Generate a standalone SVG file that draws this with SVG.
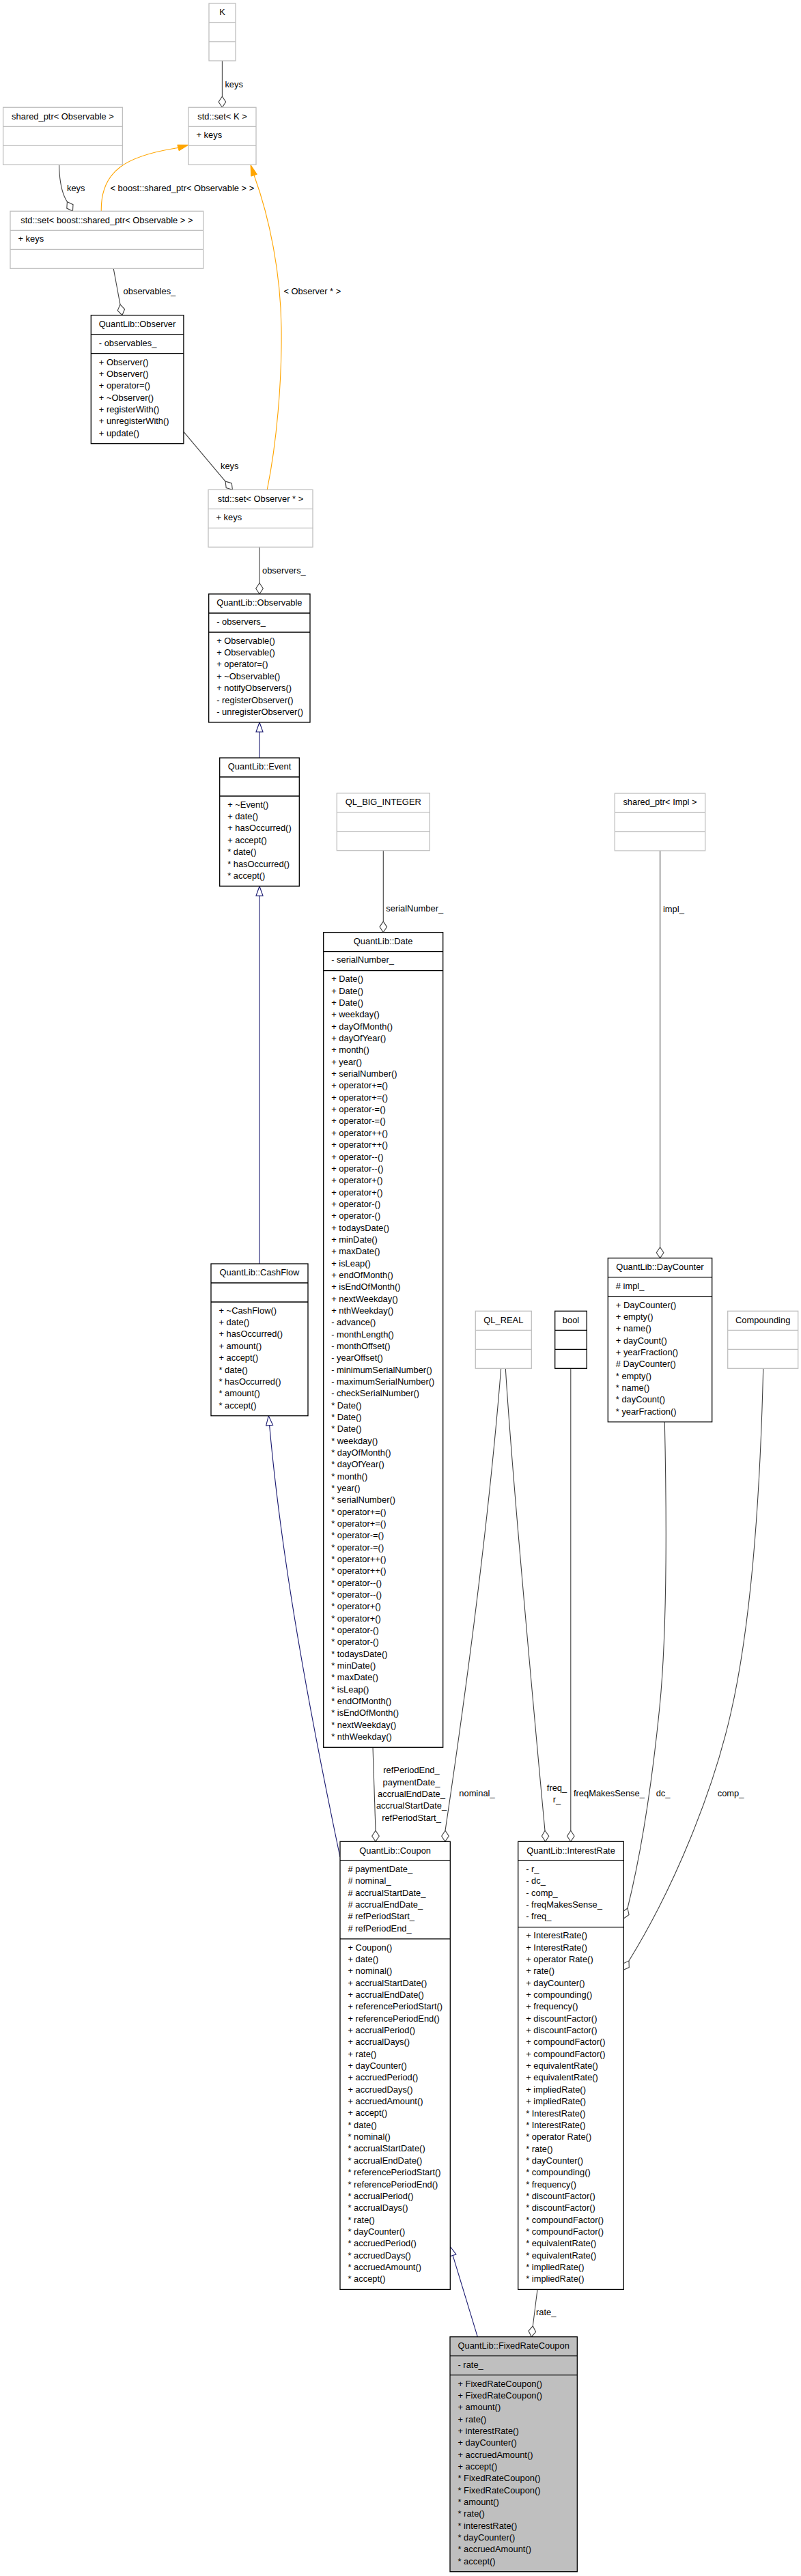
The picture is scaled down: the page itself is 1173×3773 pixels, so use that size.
<svg xmlns="http://www.w3.org/2000/svg" width="1173" height="3773" viewBox="0 0 1173 3773">
<style>
.t{font-family:"Liberation Sans",Arial,Helvetica,sans-serif;font-size:12.9px;fill:#000}
.c{text-anchor:middle}
.box{fill:#fff;stroke:#000;stroke-width:1.3}
.lbox{fill:#fff;stroke:#bfbfbf;stroke-width:1.3}
.gbox{fill:#bfbfbf;stroke:#000;stroke-width:1.3}
.sep{stroke:#000;stroke-width:1.3}
.lsep{stroke:#bfbfbf;stroke-width:1.3}
.edge{fill:none;stroke:#404040;stroke-width:1.1}
.inh{fill:none;stroke:#191970;stroke-width:1.1}
.tmpl{fill:none;stroke:#ffa500;stroke-width:1.1}
.dia{fill:#fff;stroke:#404040;stroke-width:1.1}
.tri{fill:#fff;stroke:#191970;stroke-width:1.1}
.arr{fill:#ffa500;stroke:#ffa500;stroke-width:1}
</style>
<rect x="0" y="0" width="1173" height="3773" fill="#fff"/>

<g id="connectors">
  <!-- K -> std::set<K> -->
  <line class="edge" x1="325.4" y1="89" x2="325.4" y2="141.3"/>
  <polygon class="dia" points="325.4,157.3 320.1,149.3 325.4,141.3 330.7,149.3"/>
  <text class="t" x="329.4" y="127.5">keys</text>
  <!-- shared_ptr<Observable> -> std::set<shared_ptr> -->
  <path class="edge" d="M86.5,241.3 C87,265 90,283 98.4,295.5"/>
  <polygon class="dia" points="106.5,309.3 107,299.7 98.4,295.5 97.8,305.1"/>
  <text class="t" x="98" y="279.5">keys</text>
  <!-- template instantiation 1 -->
  <path class="tmpl" d="M148.3,309.3 C147,250 185,228 261,216.5"/>
  <polygon class="arr" points="275.8,212.3 262.2,220.8 259.8,212.2"/>
  <text class="t" x="161.5" y="279.5">&lt; boost::shared_ptr&lt; Observable &gt; &gt;</text>
  <!-- template instantiation 2 -->
  <path class="tmpl" d="M391.2,717.3 C405,650 413,560 412,480 C411,400 395,320 372.1,256.7"/>
  <polygon class="arr" points="367,241.3 376.4,255.3 367.8,258.1"/>
  <text class="t" x="415.4" y="431">&lt; Observer * &gt;</text>
  <!-- observables_ -->
  <line class="edge" x1="166.2" y1="393.3" x2="176" y2="446"/>
  <polygon class="dia" points="178.9,461.7 182.6,452.8 176,446 172.2,454.8"/>
  <text class="t" x="180.6" y="431">observables_</text>
  <!-- Observer keys -> std::set<Observer*> -->
  <line class="edge" x1="268.9" y1="632.3" x2="330.1" y2="705.1"/>
  <polygon class="dia" points="340.4,717.3 339.3,707.8 330.1,705.1 331.2,714.6"/>
  <text class="t" x="323" y="687">keys</text>
  <!-- observers_ -->
  <line class="edge" x1="380" y1="801.3" x2="380" y2="854"/>
  <polygon class="dia" points="380,870 374.7,862 380,854 385.3,862"/>
  <text class="t" x="384" y="839.5">observers_</text>
  <!-- Event -> Observable -->
  <line class="inh" x1="380" y1="1110" x2="380" y2="1072"/>
  <polygon class="tri" points="380,1058 375,1072 385,1072"/>
  <!-- CashFlow -> Event -->
  <line class="inh" x1="380" y1="1851" x2="380" y2="1312"/>
  <polygon class="tri" points="380,1298 375,1312 385,1312"/>
  <!-- Coupon -> CashFlow -->
  <path class="inh" d="M498,2720 C452.9,2505 412.7,2289 394.6,2087.6"/>
  <polygon class="tri" points="393.3,2073.7 399.6,2087.2 389.6,2088.1"/>
  <!-- serialNumber_ -->
  <line class="edge" x1="561.3" y1="1245.7" x2="561.3" y2="1349.6"/>
  <polygon class="dia" points="561.3,1365.6 556,1357.6 561.3,1349.6 566.6,1357.6"/>
  <text class="t" x="565.3" y="1335">serialNumber_</text>
  <!-- impl_ -->
  <line class="edge" x1="966.6" y1="1246" x2="966.6" y2="1826.7"/>
  <polygon class="dia" points="966.6,1842.7 961.3,1834.7 966.6,1826.7 971.9,1834.7"/>
  <text class="t" x="971" y="1336">impl_</text>
  <!-- Date -> Coupon -->
  <line class="edge" x1="546" y1="2559.3" x2="550" y2="2681.3"/>
  <polygon class="dia" points="550,2697.3 544.7,2689.3 550,2681.3 555.3,2689.3"/>
  <text class="t c" x="602.5" y="2597.2">refPeriodEnd_<tspan x="602.5" dy="17.34">paymentDate_</tspan><tspan x="602.5" dy="17.34">accrualEndDate_</tspan><tspan x="602.5" dy="17.34">accrualStartDate_</tspan><tspan x="602.5" dy="17.34">refPeriodStart_</tspan></text>
  <!-- nominal_ -->
  <path class="edge" d="M733.7,2004.3 C722,2150 700,2360 652,2681.3"/>
  <polygon class="dia" points="651.7,2697.3 646.7,2689.3 652,2681.3 657.3,2689.3"/>
  <text class="t" x="672.3" y="2631.2">nominal_</text>
  <!-- freq_ r_ -->
  <path class="edge" d="M740.3,2004.3 C748,2130 770,2380 798,2681.3"/>
  <polygon class="dia" points="798.7,2697.3 793.4,2689.3 798,2681.3 803.8,2689.3"/>
  <text class="t c" x="815.5" y="2622.8">freq_<tspan x="815.5" dy="17.34">r_</tspan></text>
  <!-- freqMakesSense_ -->
  <line class="edge" x1="835.8" y1="2004.3" x2="835.8" y2="2681.3"/>
  <polygon class="dia" points="835.8,2697.3 830.5,2689.3 835.8,2681.3 841.1,2689.3"/>
  <text class="t" x="840" y="2631.2">freqMakesSense_</text>
  <!-- dc_ -->
  <path class="edge" d="M973.3,2082.7 C977,2250 976,2400 966,2500 C956,2600 940,2710 919,2795"/>
  <polygon class="dia" points="913.3,2810 921.1,2804.4 919,2795 911.1,2800.6"/>
  <text class="t" x="960.7" y="2631.2">dc_</text>
  <!-- comp_ -->
  <path class="edge" d="M1117.7,2004.3 C1113,2200 1100,2380 1070,2510 C1045,2620 990,2760 921,2872"/>
  <polygon class="dia" points="912.6,2885.6 921.3,2881.6 921,2872 912.3,2876"/>
  <text class="t" x="1050.7" y="2631.2">comp_</text>
  <!-- rate_ -->
  <line class="edge" x1="787" y1="3353.4" x2="780.3" y2="3406.8"/>
  <polygon class="dia" points="778.3,3422.7 784.6,3415.5 780.3,3406.8 774,3414.1"/>
  <text class="t" x="785" y="3391">rate_</text>
  <!-- FixedRateCoupon -> Coupon -->
  <line class="inh" x1="699.3" y1="3422.7" x2="663.1" y2="3303.4"/>
  <polygon class="tri" points="659,3290 667.9,3301.9 658.3,3304.9"/>
</g>

<g id="K">
  <rect class="lbox" x="306" y="5" width="39" height="84"/>
  <line class="lsep" x1="306" y1="33" x2="345" y2="33"/>
  <line class="lsep" x1="306" y1="61" x2="345" y2="61"/>
  <text class="t c" x="325.5" y="22.3">K</text>
</g>

<g id="std_set_K">
  <rect class="lbox" x="276" y="157.3" width="99" height="84"/>
  <line class="lsep" x1="276" y1="185.3" x2="375" y2="185.3"/>
  <line class="lsep" x1="276" y1="213.3" x2="375" y2="213.3"/>
  <text class="t c" x="325.5" y="174.6">std::set&lt; K &gt;</text>
  <text class="t" x="287.5" y="202.1">+ keys</text>
</g>

<g id="shared_ptr_Observable">
  <rect class="lbox" x="4.6" y="157.3" width="174.8" height="84"/>
  <line class="lsep" x1="4.6" y1="185.3" x2="179.4" y2="185.3"/>
  <line class="lsep" x1="4.6" y1="213.3" x2="179.4" y2="213.3"/>
  <text class="t c" x="92" y="174.6">shared_ptr&lt; Observable &gt;</text>
</g>

<g id="std_set_shared_ptr_Observable">
  <rect class="lbox" x="15" y="309.3" width="282.7" height="84"/>
  <line class="lsep" x1="15" y1="337.3" x2="297.7" y2="337.3"/>
  <line class="lsep" x1="15" y1="365.3" x2="297.7" y2="365.3"/>
  <text class="t c" x="156.35" y="326.6">std::set&lt; boost::shared_ptr&lt; Observable &gt; &gt;</text>
  <text class="t" x="26.5" y="354.1">+ keys</text>
</g>

<g id="Observer">
  <rect class="box" x="133.3" y="461.7" width="135.6" height="188"/>
  <line class="sep" x1="133.3" y1="489.7" x2="268.9" y2="489.7"/>
  <line class="sep" x1="133.3" y1="517.7" x2="268.9" y2="517.7"/>
  <text class="t c" x="201.1" y="479">QuantLib::Observer</text>
  <text class="t" x="144.8" y="506.5">- observables_</text>
  <text class="t" x="144.8" y="534.5">+ Observer()<tspan x="144.8" dy="17.34">+ Observer()</tspan><tspan x="144.8" dy="17.34">+ operator=()</tspan><tspan x="144.8" dy="17.34">+ ~Observer()</tspan><tspan x="144.8" dy="17.34">+ registerWith()</tspan><tspan x="144.8" dy="17.34">+ unregisterWith()</tspan><tspan x="144.8" dy="17.34">+ update()</tspan></text>
</g>

<g id="std_set_Observer">
  <rect class="lbox" x="305" y="717.3" width="153" height="84"/>
  <line class="lsep" x1="305" y1="745.3" x2="458" y2="745.3"/>
  <line class="lsep" x1="305" y1="773.3" x2="458" y2="773.3"/>
  <text class="t c" x="381.5" y="734.6">std::set&lt; Observer * &gt;</text>
  <text class="t" x="316.5" y="762.1">+ keys</text>
</g>

<g id="Observable">
  <rect class="box" x="305.7" y="870" width="148.3" height="188"/>
  <line class="sep" x1="305.7" y1="898" x2="454" y2="898"/>
  <line class="sep" x1="305.7" y1="926" x2="454" y2="926"/>
  <text class="t c" x="379.85" y="887.3">QuantLib::Observable</text>
  <text class="t" x="317.2" y="914.8">- observers_</text>
  <text class="t" x="317.2" y="942.8">+ Observable()<tspan x="317.2" dy="17.34">+ Observable()</tspan><tspan x="317.2" dy="17.34">+ operator=()</tspan><tspan x="317.2" dy="17.34">+ ~Observable()</tspan><tspan x="317.2" dy="17.34">+ notifyObservers()</tspan><tspan x="317.2" dy="17.34">- registerObserver()</tspan><tspan x="317.2" dy="17.34">- unregisterObserver()</tspan></text>
</g>

<g id="Event">
  <rect class="box" x="321.7" y="1110" width="116.6" height="188"/>
  <line class="sep" x1="321.7" y1="1138" x2="438.3" y2="1138"/>
  <line class="sep" x1="321.7" y1="1166" x2="438.3" y2="1166"/>
  <text class="t c" x="380" y="1127.3">QuantLib::Event</text>
  <text class="t" x="333.2" y="1182.8">+ ~Event()<tspan x="333.2" dy="17.34">+ date()</tspan><tspan x="333.2" dy="17.34">+ hasOccurred()</tspan><tspan x="333.2" dy="17.34">+ accept()</tspan><tspan x="333.2" dy="17.34">* date()</tspan><tspan x="333.2" dy="17.34">* hasOccurred()</tspan><tspan x="333.2" dy="17.34">* accept()</tspan></text>
</g>

<g id="QL_BIG_INTEGER">
  <rect class="lbox" x="493.3" y="1161.7" width="136" height="84"/>
  <line class="lsep" x1="493.3" y1="1189.7" x2="629.3" y2="1189.7"/>
  <line class="lsep" x1="493.3" y1="1217.7" x2="629.3" y2="1217.7"/>
  <text class="t c" x="561.3" y="1179">QL_BIG_INTEGER</text>
</g>

<g id="shared_ptr_Impl">
  <rect class="lbox" x="900.3" y="1162" width="132.4" height="84"/>
  <line class="lsep" x1="900.3" y1="1190" x2="1032.7" y2="1190"/>
  <line class="lsep" x1="900.3" y1="1218" x2="1032.7" y2="1218"/>
  <text class="t c" x="966.5" y="1179.3">shared_ptr&lt; Impl &gt;</text>
</g>

<g id="Date">
  <rect class="box" x="473.7" y="1365.6" width="175" height="1193.7"/>
  <line class="sep" x1="473.7" y1="1393.6" x2="648.7" y2="1393.6"/>
  <line class="sep" x1="473.7" y1="1421.6" x2="648.7" y2="1421.6"/>
  <text class="t c" x="561.2" y="1382.9">QuantLib::Date</text>
  <text class="t" x="485.2" y="1410.4">- serialNumber_</text>
  <text class="t" x="485.2" y="1438.4">+ Date()<tspan x="485.2" dy="17.34">+ Date()</tspan><tspan x="485.2" dy="17.34">+ Date()</tspan><tspan x="485.2" dy="17.34">+ weekday()</tspan><tspan x="485.2" dy="17.34">+ dayOfMonth()</tspan><tspan x="485.2" dy="17.34">+ dayOfYear()</tspan><tspan x="485.2" dy="17.34">+ month()</tspan><tspan x="485.2" dy="17.34">+ year()</tspan><tspan x="485.2" dy="17.34">+ serialNumber()</tspan><tspan x="485.2" dy="17.34">+ operator+=()</tspan><tspan x="485.2" dy="17.34">+ operator+=()</tspan><tspan x="485.2" dy="17.34">+ operator-=()</tspan><tspan x="485.2" dy="17.34">+ operator-=()</tspan><tspan x="485.2" dy="17.34">+ operator++()</tspan><tspan x="485.2" dy="17.34">+ operator++()</tspan><tspan x="485.2" dy="17.34">+ operator--()</tspan><tspan x="485.2" dy="17.34">+ operator--()</tspan><tspan x="485.2" dy="17.34">+ operator+()</tspan><tspan x="485.2" dy="17.34">+ operator+()</tspan><tspan x="485.2" dy="17.34">+ operator-()</tspan><tspan x="485.2" dy="17.34">+ operator-()</tspan><tspan x="485.2" dy="17.34">+ todaysDate()</tspan><tspan x="485.2" dy="17.34">+ minDate()</tspan><tspan x="485.2" dy="17.34">+ maxDate()</tspan><tspan x="485.2" dy="17.34">+ isLeap()</tspan><tspan x="485.2" dy="17.34">+ endOfMonth()</tspan><tspan x="485.2" dy="17.34">+ isEndOfMonth()</tspan><tspan x="485.2" dy="17.34">+ nextWeekday()</tspan><tspan x="485.2" dy="17.34">+ nthWeekday()</tspan><tspan x="485.2" dy="17.34">- advance()</tspan><tspan x="485.2" dy="17.34">- monthLength()</tspan><tspan x="485.2" dy="17.34">- monthOffset()</tspan><tspan x="485.2" dy="17.34">- yearOffset()</tspan><tspan x="485.2" dy="17.34">- minimumSerialNumber()</tspan><tspan x="485.2" dy="17.34">- maximumSerialNumber()</tspan><tspan x="485.2" dy="17.34">- checkSerialNumber()</tspan><tspan x="485.2" dy="17.34">* Date()</tspan><tspan x="485.2" dy="17.34">* Date()</tspan><tspan x="485.2" dy="17.34">* Date()</tspan><tspan x="485.2" dy="17.34">* weekday()</tspan><tspan x="485.2" dy="17.34">* dayOfMonth()</tspan><tspan x="485.2" dy="17.34">* dayOfYear()</tspan><tspan x="485.2" dy="17.34">* month()</tspan><tspan x="485.2" dy="17.34">* year()</tspan><tspan x="485.2" dy="17.34">* serialNumber()</tspan><tspan x="485.2" dy="17.34">* operator+=()</tspan><tspan x="485.2" dy="17.34">* operator+=()</tspan><tspan x="485.2" dy="17.34">* operator-=()</tspan><tspan x="485.2" dy="17.34">* operator-=()</tspan><tspan x="485.2" dy="17.34">* operator++()</tspan><tspan x="485.2" dy="17.34">* operator++()</tspan><tspan x="485.2" dy="17.34">* operator--()</tspan><tspan x="485.2" dy="17.34">* operator--()</tspan><tspan x="485.2" dy="17.34">* operator+()</tspan><tspan x="485.2" dy="17.34">* operator+()</tspan><tspan x="485.2" dy="17.34">* operator-()</tspan><tspan x="485.2" dy="17.34">* operator-()</tspan><tspan x="485.2" dy="17.34">* todaysDate()</tspan><tspan x="485.2" dy="17.34">* minDate()</tspan><tspan x="485.2" dy="17.34">* maxDate()</tspan><tspan x="485.2" dy="17.34">* isLeap()</tspan><tspan x="485.2" dy="17.34">* endOfMonth()</tspan><tspan x="485.2" dy="17.34">* isEndOfMonth()</tspan><tspan x="485.2" dy="17.34">* nextWeekday()</tspan><tspan x="485.2" dy="17.34">* nthWeekday()</tspan></text>
</g>

<g id="CashFlow">
  <rect class="box" x="309" y="1851" width="142" height="222.7"/>
  <line class="sep" x1="309" y1="1879" x2="451" y2="1879"/>
  <line class="sep" x1="309" y1="1907" x2="451" y2="1907"/>
  <text class="t c" x="380" y="1868.3">QuantLib::CashFlow</text>
  <text class="t" x="320.5" y="1923.8">+ ~CashFlow()<tspan x="320.5" dy="17.34">+ date()</tspan><tspan x="320.5" dy="17.34">+ hasOccurred()</tspan><tspan x="320.5" dy="17.34">+ amount()</tspan><tspan x="320.5" dy="17.34">+ accept()</tspan><tspan x="320.5" dy="17.34">* date()</tspan><tspan x="320.5" dy="17.34">* hasOccurred()</tspan><tspan x="320.5" dy="17.34">* amount()</tspan><tspan x="320.5" dy="17.34">* accept()</tspan></text>
</g>

<g id="DayCounter">
  <rect class="box" x="890.3" y="1842.7" width="152.4" height="240"/>
  <line class="sep" x1="890.3" y1="1870.7" x2="1042.7" y2="1870.7"/>
  <line class="sep" x1="890.3" y1="1898.7" x2="1042.7" y2="1898.7"/>
  <text class="t c" x="966.5" y="1860">QuantLib::DayCounter</text>
  <text class="t" x="901.8" y="1887.5"># impl_</text>
  <text class="t" x="901.8" y="1915.5">+ DayCounter()<tspan x="901.8" dy="17.34">+ empty()</tspan><tspan x="901.8" dy="17.34">+ name()</tspan><tspan x="901.8" dy="17.34">+ dayCount()</tspan><tspan x="901.8" dy="17.34">+ yearFraction()</tspan><tspan x="901.8" dy="17.34"># DayCounter()</tspan><tspan x="901.8" dy="17.34">* empty()</tspan><tspan x="901.8" dy="17.34">* name()</tspan><tspan x="901.8" dy="17.34">* dayCount()</tspan><tspan x="901.8" dy="17.34">* yearFraction()</tspan></text>
</g>

<g id="QL_REAL">
  <rect class="lbox" x="696.3" y="1920.3" width="82" height="84"/>
  <line class="lsep" x1="696.3" y1="1948.3" x2="778.3" y2="1948.3"/>
  <line class="lsep" x1="696.3" y1="1976.3" x2="778.3" y2="1976.3"/>
  <text class="t c" x="737.3" y="1937.6">QL_REAL</text>
</g>

<g id="bool">
  <rect class="box" x="812.7" y="1920.3" width="46.6" height="84"/>
  <line class="sep" x1="812.7" y1="1948.3" x2="859.3" y2="1948.3"/>
  <line class="sep" x1="812.7" y1="1976.3" x2="859.3" y2="1976.3"/>
  <text class="t c" x="836" y="1937.6">bool</text>
</g>

<g id="Compounding">
  <rect class="lbox" x="1065.7" y="1920.3" width="103" height="84"/>
  <line class="lsep" x1="1065.7" y1="1948.3" x2="1168.7" y2="1948.3"/>
  <line class="lsep" x1="1065.7" y1="1976.3" x2="1168.7" y2="1976.3"/>
  <text class="t c" x="1117.2" y="1937.6">Compounding</text>
</g>

<g id="Coupon">
  <rect class="box" x="498" y="2697.3" width="161.3" height="656.1"/>
  <line class="sep" x1="498" y1="2725.3" x2="659.3" y2="2725.3"/>
  <line class="sep" x1="498" y1="2839.9" x2="659.3" y2="2839.9"/>
  <text class="t c" x="578.65" y="2714.6">QuantLib::Coupon</text>
  <text class="t" x="509.5" y="2742.1"># paymentDate_<tspan x="509.5" dy="17.34"># nominal_</tspan><tspan x="509.5" dy="17.34"># accrualStartDate_</tspan><tspan x="509.5" dy="17.34"># accrualEndDate_</tspan><tspan x="509.5" dy="17.34"># refPeriodStart_</tspan><tspan x="509.5" dy="17.34"># refPeriodEnd_</tspan></text>
  <text class="t" x="509.5" y="2856.7">+ Coupon()<tspan x="509.5" dy="17.34">+ date()</tspan><tspan x="509.5" dy="17.34">+ nominal()</tspan><tspan x="509.5" dy="17.34">+ accrualStartDate()</tspan><tspan x="509.5" dy="17.34">+ accrualEndDate()</tspan><tspan x="509.5" dy="17.34">+ referencePeriodStart()</tspan><tspan x="509.5" dy="17.34">+ referencePeriodEnd()</tspan><tspan x="509.5" dy="17.34">+ accrualPeriod()</tspan><tspan x="509.5" dy="17.34">+ accrualDays()</tspan><tspan x="509.5" dy="17.34">+ rate()</tspan><tspan x="509.5" dy="17.34">+ dayCounter()</tspan><tspan x="509.5" dy="17.34">+ accruedPeriod()</tspan><tspan x="509.5" dy="17.34">+ accruedDays()</tspan><tspan x="509.5" dy="17.34">+ accruedAmount()</tspan><tspan x="509.5" dy="17.34">+ accept()</tspan><tspan x="509.5" dy="17.34">* date()</tspan><tspan x="509.5" dy="17.34">* nominal()</tspan><tspan x="509.5" dy="17.34">* accrualStartDate()</tspan><tspan x="509.5" dy="17.34">* accrualEndDate()</tspan><tspan x="509.5" dy="17.34">* referencePeriodStart()</tspan><tspan x="509.5" dy="17.34">* referencePeriodEnd()</tspan><tspan x="509.5" dy="17.34">* accrualPeriod()</tspan><tspan x="509.5" dy="17.34">* accrualDays()</tspan><tspan x="509.5" dy="17.34">* rate()</tspan><tspan x="509.5" dy="17.34">* dayCounter()</tspan><tspan x="509.5" dy="17.34">* accruedPeriod()</tspan><tspan x="509.5" dy="17.34">* accruedDays()</tspan><tspan x="509.5" dy="17.34">* accruedAmount()</tspan><tspan x="509.5" dy="17.34">* accept()</tspan></text>
</g>

<g id="InterestRate">
  <rect class="box" x="758.7" y="2697.3" width="154.6" height="656.1"/>
  <line class="sep" x1="758.7" y1="2725.3" x2="913.3" y2="2725.3"/>
  <line class="sep" x1="758.7" y1="2822.6" x2="913.3" y2="2822.6"/>
  <text class="t c" x="836" y="2714.6">QuantLib::InterestRate</text>
  <text class="t" x="770.2" y="2742.1">- r_<tspan x="770.2" dy="17.34">- dc_</tspan><tspan x="770.2" dy="17.34">- comp_</tspan><tspan x="770.2" dy="17.34">- freqMakesSense_</tspan><tspan x="770.2" dy="17.34">- freq_</tspan></text>
  <text class="t" x="770.2" y="2839.4">+ InterestRate()<tspan x="770.2" dy="17.34">+ InterestRate()</tspan><tspan x="770.2" dy="17.34">+ operator Rate()</tspan><tspan x="770.2" dy="17.34">+ rate()</tspan><tspan x="770.2" dy="17.34">+ dayCounter()</tspan><tspan x="770.2" dy="17.34">+ compounding()</tspan><tspan x="770.2" dy="17.34">+ frequency()</tspan><tspan x="770.2" dy="17.34">+ discountFactor()</tspan><tspan x="770.2" dy="17.34">+ discountFactor()</tspan><tspan x="770.2" dy="17.34">+ compoundFactor()</tspan><tspan x="770.2" dy="17.34">+ compoundFactor()</tspan><tspan x="770.2" dy="17.34">+ equivalentRate()</tspan><tspan x="770.2" dy="17.34">+ equivalentRate()</tspan><tspan x="770.2" dy="17.34">+ impliedRate()</tspan><tspan x="770.2" dy="17.34">+ impliedRate()</tspan><tspan x="770.2" dy="17.34">* InterestRate()</tspan><tspan x="770.2" dy="17.34">* InterestRate()</tspan><tspan x="770.2" dy="17.34">* operator Rate()</tspan><tspan x="770.2" dy="17.34">* rate()</tspan><tspan x="770.2" dy="17.34">* dayCounter()</tspan><tspan x="770.2" dy="17.34">* compounding()</tspan><tspan x="770.2" dy="17.34">* frequency()</tspan><tspan x="770.2" dy="17.34">* discountFactor()</tspan><tspan x="770.2" dy="17.34">* discountFactor()</tspan><tspan x="770.2" dy="17.34">* compoundFactor()</tspan><tspan x="770.2" dy="17.34">* compoundFactor()</tspan><tspan x="770.2" dy="17.34">* equivalentRate()</tspan><tspan x="770.2" dy="17.34">* equivalentRate()</tspan><tspan x="770.2" dy="17.34">* impliedRate()</tspan><tspan x="770.2" dy="17.34">* impliedRate()</tspan></text>
</g>

<g id="FixedRateCoupon">
  <rect class="gbox" x="659" y="3422.7" width="186.3" height="344"/>
  <line class="sep" x1="659" y1="3450.7" x2="845.3" y2="3450.7"/>
  <line class="sep" x1="659" y1="3478.7" x2="845.3" y2="3478.7"/>
  <text class="t c" x="752.15" y="3440">QuantLib::FixedRateCoupon</text>
  <text class="t" x="670.5" y="3467.5">- rate_</text>
  <text class="t" x="670.5" y="3495.5">+ FixedRateCoupon()<tspan x="670.5" dy="17.34">+ FixedRateCoupon()</tspan><tspan x="670.5" dy="17.34">+ amount()</tspan><tspan x="670.5" dy="17.34">+ rate()</tspan><tspan x="670.5" dy="17.34">+ interestRate()</tspan><tspan x="670.5" dy="17.34">+ dayCounter()</tspan><tspan x="670.5" dy="17.34">+ accruedAmount()</tspan><tspan x="670.5" dy="17.34">+ accept()</tspan><tspan x="670.5" dy="17.34">* FixedRateCoupon()</tspan><tspan x="670.5" dy="17.34">* FixedRateCoupon()</tspan><tspan x="670.5" dy="17.34">* amount()</tspan><tspan x="670.5" dy="17.34">* rate()</tspan><tspan x="670.5" dy="17.34">* interestRate()</tspan><tspan x="670.5" dy="17.34">* dayCounter()</tspan><tspan x="670.5" dy="17.34">* accruedAmount()</tspan><tspan x="670.5" dy="17.34">* accept()</tspan></text>
</g>
</svg>
